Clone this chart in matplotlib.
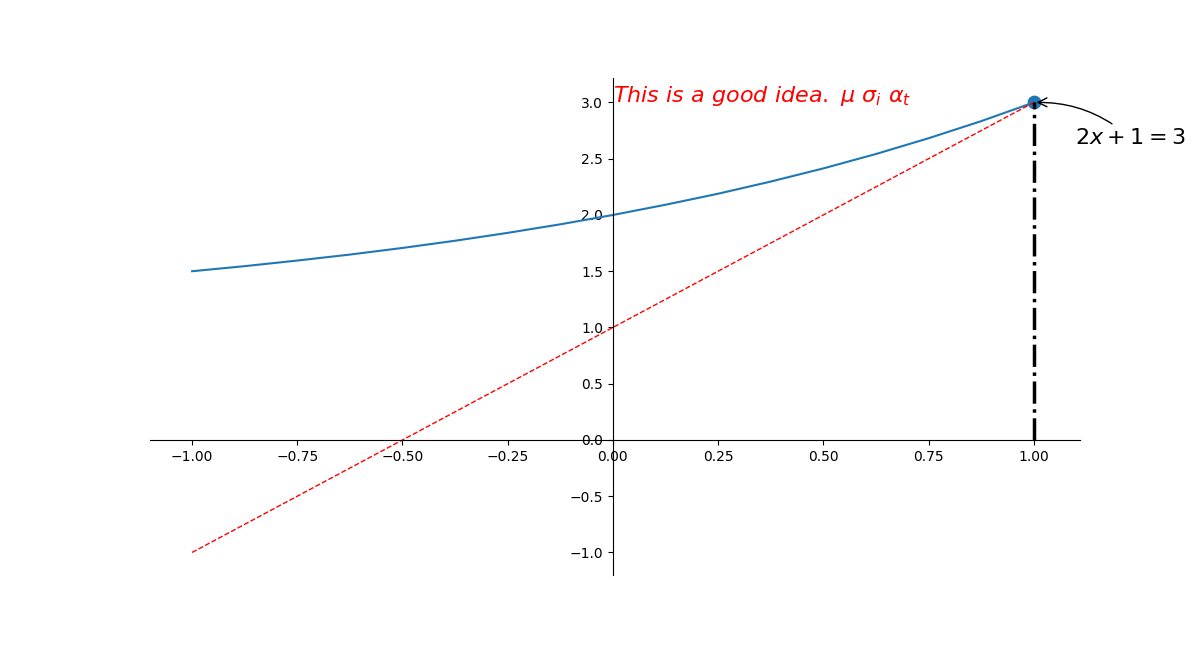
import matplotlib
matplotlib.use("Agg")
import matplotlib.pyplot as plt

# blue curve, values
curve_x = [-1.0, -0.875, -0.75, -0.625, -0.5, -0.375, -0.25, -0.125, 0.0,
           0.125, 0.25, 0.375, 0.5, 0.625, 0.75, 0.875, 1.0]
curve_y = [1.5, 1.545, 1.595, 1.648, 1.707, 1.771, 1.841, 1.917, 2.0,
           2.091, 2.189, 2.297, 2.414, 2.542, 2.682, 2.834, 3.0]

# red dashed line
line_x = [-1.0, 1.0]
line_y = [-1.0, 3.0]

# highlighted point
x0 = 1.0
y0 = 3.0

fig = plt.figure(figsize=(12, 6.46), dpi=100)
ax = plt.gca()

ax.plot(curve_x, curve_y)
ax.plot(line_x, line_y, color="red", linewidth=1.0, linestyle="--")

ax.spines["right"].set_color("none")
ax.spines["top"].set_color("none")
ax.xaxis.set_ticks_position("bottom")
ax.spines["bottom"].set_position(("data", 0))
ax.yaxis.set_ticks_position("left")
ax.spines["left"].set_position(("data", 0))

ax.plot([x0, x0], [0, y0], "k-.", linewidth=2.5)
ax.scatter([x0], [y0], s=80)

ax.set_xlim(-1.1, 1.11)
ax.set_ylim(-1.2, 3.222)

ax.annotate(r"$2x+1=%d$" % y0, xy=(x0, y0), xycoords="data",
            xytext=(+30, -30), textcoords="offset points", fontsize=16,
            arrowprops=dict(arrowstyle="->", connectionstyle="arc3,rad=.2"))

ax.text(0, 3, r"$This\ is\ a\ good\ idea.\ \mu\ \sigma_i\ \alpha_t$",
        fontdict={"size": 16, "color": "r"})

plt.savefig("out.png", dpi=100)
